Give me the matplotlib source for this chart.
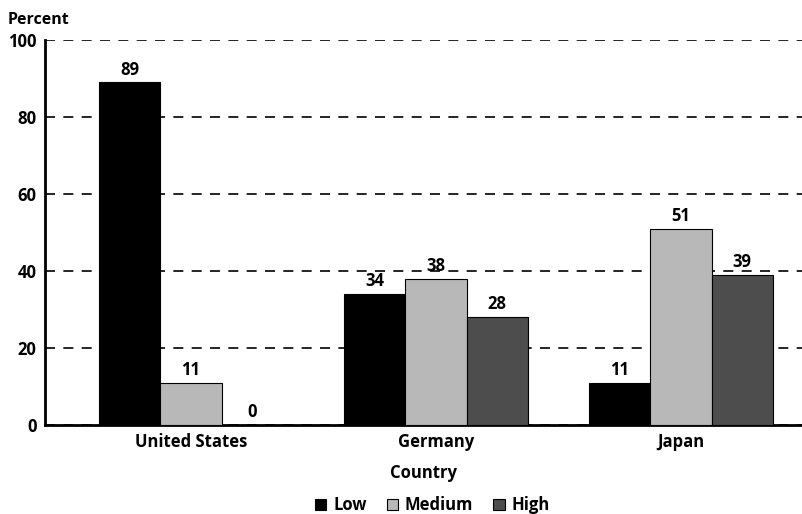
import numpy as np
import matplotlib.pyplot as plt

plt.rcParams['font.family'] = ['Open Sans', 'DejaVu Sans']

# data
countries = ['United States', 'Germany', 'Japan']
levels = ['Low', 'Medium', 'High']
low = [89, 34, 11]
medium = [11, 38, 51]
high = [0, 28, 39]
yticks = [0, 20, 40, 60, 80, 100]

colors = ['#000000', '#b8b8b8', '#4d4d4d']

fig = plt.figure(figsize=(8.02, 5.14), dpi=100)
ax = fig.add_axes([0.056, 0.173, 0.944, 0.749])

x = np.arange(len(countries))
w = 0.25
for i, (vals, name) in enumerate(zip([low, medium, high], levels)):
    bars = ax.bar(x + (i - 1) * w, vals, w, color=colors[i], edgecolor='black',
                  linewidth=0.8, label=name, zorder=3)
    for b, v in zip(bars, vals):
        ax.text(b.get_x() + b.get_width() / 2, v + 1, str(v), ha='center', va='bottom',
                fontsize=12, fontweight='bold', zorder=4)

ax.set_ylim(0, 100)
ax.set_xlim(-0.596, 2.494)
ax.set_yticks(yticks)
ax.set_xticks(x)
ax.set_xticklabels(countries)
ax.tick_params(axis='both', length=0, labelsize=12, pad=6)
for lab in ax.get_xticklabels() + ax.get_yticklabels():
    lab.set_fontweight('bold')

# dashed gridlines
ax.yaxis.grid(True, linestyle=(0, (6, 5)), color='black', linewidth=1.2, zorder=0)

for s in ['top', 'right']:
    ax.spines[s].set_visible(False)
ax.spines['left'].set_linewidth(2)
ax.spines['bottom'].set_linewidth(2)

ax.set_xlabel('Country', fontsize=12, fontweight='bold', labelpad=9)
fig.text(0.01, 0.962, 'Percent', fontsize=11.5, fontweight='bold', va='center')

fig.legend(loc='lower center', bbox_to_anchor=(0.539, -0.03), ncol=3, frameon=False,
           handlelength=0.7, handleheight=0.7, handletextpad=0.4,
           columnspacing=1.2, prop={'weight': 'bold', 'size': 12})

fig.savefig('out.png', dpi=100)
